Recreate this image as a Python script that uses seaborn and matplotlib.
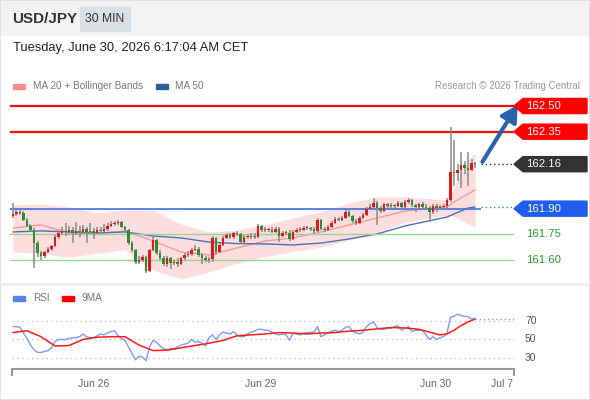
import numpy as np
import matplotlib
matplotlib.use("Agg")
import matplotlib.pyplot as plt
import seaborn as sns
from matplotlib.patches import Polygon, Rectangle
from matplotlib.lines import Line2D
from matplotlib.transforms import blended_transform_factory

W, H = 590, 400

# --- USD/JPY 30 min bars (oldest first) ---
first_open = 161.857
closes = [161.869, 161.881, 161.875, 161.834, 161.799, 161.775, 161.699, 161.641, 161.623, 161.647,
          161.664, 161.682, 161.734, 161.758, 161.770, 161.764, 161.775, 161.758, 161.770, 161.764,
          161.781, 161.764, 161.770, 161.758, 161.775, 161.770, 161.781, 161.799, 161.810, 161.816,
          161.822, 161.793, 161.775, 161.699, 161.658, 161.588, 161.600, 161.618, 161.536, 161.658,
          161.717, 161.641, 161.612, 161.577, 161.612, 161.582, 161.588, 161.577, 161.612, 161.629,
          161.635, 161.658, 161.664, 161.629, 161.612, 161.600, 161.606, 161.729, 161.647, 161.688,
          161.729, 161.746, 161.734, 161.758, 161.752, 161.705, 161.734, 161.734, 161.740, 161.734,
          161.799, 161.775, 161.775, 161.775, 161.764, 161.781, 161.740, 161.758, 161.758, 161.723,
          161.764, 161.775, 161.775, 161.787, 161.787, 161.781, 161.770, 161.834, 161.781, 161.775,
          161.793, 161.816, 161.840, 161.834, 161.845, 161.881, 161.857, 161.828, 161.816, 161.845,
          161.863, 161.898, 161.910, 161.933, 161.904, 161.886, 161.927, 161.916, 161.921, 161.916,
          161.933, 161.910, 161.939, 161.951, 161.921, 161.910, 161.927, 161.910, 161.904, 161.881,
          161.916, 161.904, 161.910, 161.916, 161.951, 162.114, 162.109, 162.126, 162.155, 162.138,
          162.126, 162.167, 162.160]
highs = [161.933, 161.893, 161.895, 161.887, 161.845, 161.810, 161.787, 161.710, 161.655, 161.655,
         161.675, 161.690, 161.745, 161.770, 161.790, 161.815, 161.800, 161.790, 161.820, 161.800,
         161.805, 161.795, 161.815, 161.785, 161.795, 161.790, 161.810, 161.815, 161.825, 161.830,
         161.835, 161.830, 161.800, 161.780, 161.710, 161.665, 161.625, 161.630, 161.625, 161.665,
         161.735, 161.725, 161.660, 161.625, 161.625, 161.620, 161.600, 161.610, 161.620, 161.640,
         161.650, 161.670, 161.690, 161.675, 161.640, 161.625, 161.620, 161.740, 161.735, 161.700,
         161.740, 161.760, 161.755, 161.765, 161.770, 161.760, 161.745, 161.745, 161.760, 161.755,
         161.810, 161.805, 161.790, 161.785, 161.790, 161.790, 161.790, 161.770, 161.770, 161.775,
         161.775, 161.785, 161.790, 161.800, 161.800, 161.795, 161.790, 161.845, 161.840, 161.795,
         161.805, 161.825, 161.850, 161.850, 161.860, 161.890, 161.890, 161.865, 161.840, 161.855,
         161.875, 161.910, 161.925, 161.960, 161.945, 161.915, 161.935, 161.935, 161.935, 161.930,
         161.945, 161.940, 161.950, 161.960, 161.955, 161.930, 161.935, 161.940, 161.925, 161.915,
         161.925, 161.925, 161.920, 161.925, 161.960, 162.377, 162.300, 162.160, 162.230, 162.180,
         162.230, 162.190, 162.175]
lows = [161.845, 161.860, 161.865, 161.825, 161.790, 161.765, 161.553, 161.620, 161.600, 161.612,
        161.640, 161.655, 161.675, 161.725, 161.745, 161.740, 161.750, 161.700, 161.745, 161.735,
        161.750, 161.700, 161.750, 161.720, 161.750, 161.755, 161.760, 161.770, 161.790, 161.800,
        161.805, 161.785, 161.765, 161.690, 161.645, 161.575, 161.575, 161.590, 161.525, 161.530,
        161.650, 161.630, 161.600, 161.565, 161.560, 161.545, 161.570, 161.560, 161.570, 161.600,
        161.620, 161.625, 161.650, 161.620, 161.575, 161.590, 161.585, 161.590, 161.630, 161.640,
        161.680, 161.720, 161.725, 161.725, 161.740, 161.695, 161.700, 161.725, 161.725, 161.725,
        161.730, 161.765, 161.765, 161.765, 161.755, 161.755, 161.705, 161.735, 161.745, 161.710,
        161.715, 161.755, 161.765, 161.770, 161.775, 161.770, 161.760, 161.765, 161.775, 161.765,
        161.770, 161.785, 161.810, 161.825, 161.825, 161.840, 161.850, 161.815, 161.805, 161.810,
        161.840, 161.855, 161.890, 161.905, 161.804, 161.875, 161.880, 161.905, 161.905, 161.905,
        161.910, 161.900, 161.905, 161.930, 161.910, 161.880, 161.900, 161.895, 161.890, 161.822,
        161.870, 161.880, 161.890, 161.895, 161.905, 161.940, 162.030, 162.060, 162.020, 162.100,
        162.030, 162.120, 162.140]

# indicators, read every few bars
ind_bars = [0, 8, 16, 24, 32, 40, 48, 56, 64, 72, 80, 88, 96, 104, 112, 120, 124, 126, 128, 130, 132]
ma20 = [161.787, 161.805, 161.758, 161.752, 161.770, 161.711, 161.647, 161.629, 161.670, 161.711,
        161.729, 161.764, 161.805, 161.845, 161.886, 161.904, 161.910, 161.939, 161.962, 161.986, 162.009]
bb_upper = [161.921, 161.927, 161.910, 161.875, 161.892, 161.892, 161.810, 161.764, 161.775, 161.805,
            161.845, 161.881, 161.933, 161.968, 161.968, 161.957, 161.951, 162.021, 162.114, 162.184, 162.225]
bb_lower = [161.647, 161.640, 161.615, 161.640, 161.660, 161.542, 161.489, 161.530, 161.582, 161.620,
            161.650, 161.675, 161.717, 161.760, 161.820, 161.851, 161.862, 161.855, 161.835, 161.810, 161.790]
ma50 = [161.764, 161.770, 161.764, 161.758, 161.764, 161.740, 161.729, 161.705, 161.696, 161.694,
        161.688, 161.699, 161.723, 161.752, 161.799, 161.834, 161.851, 161.869, 161.886, 161.904, 161.910]

rsi = [64, 64, 63, 57, 51, 44, 39, 36, 36, 37,
       38, 41, 48, 50, 50, 50, 51, 52, 52, 53,
       56, 53, 52, 52, 54, 56, 55, 57, 58.5, 59.6,
       54, 51, 49, 42, 35, 28, 32, 31, 27, 42,
       49, 47, 43, 40, 39, 40, 40, 42, 44, 45,
       46, 50, 47, 48, 46, 43, 52, 55, 50, 55,
       58, 57, 56, 58.5, 55, 53, 53, 56, 58, 59,
       61, 61, 60, 60, 58, 56, 55, 56, 55, 49,
       57, 56, 55, 57, 57.5, 57.5, 58, 64, 53, 55,
       57, 59, 60, 58.5, 60, 63, 64, 59, 57, 56,
       58, 64, 67, 69, 63, 61, 61, 62, 62, 64,
       65, 60, 62, 64, 58.5, 60, 60, 59.6, 55, 50,
       53, 50, 52, 53, 57, 74, 75, 77.5, 76, 75,
       74.6, 72, 73]
rsi_ma_bars = [0, 4, 8, 12, 16, 20, 24, 28, 32, 36, 40, 44, 48, 52, 56, 60, 64, 68, 72, 76,
               80, 84, 88, 92, 96, 100, 104, 108, 112, 116, 120, 122, 124, 126, 128, 130, 132]
rsi_ma9 = [57.5, 59.5, 53, 43, 43.5, 50, 52.5, 53, 53, 44, 38, 38.5, 41, 43.5, 46, 49, 54, 55, 56, 57.5,
           57, 56, 57, 57.5, 59, 60, 61.5, 63, 62.5, 61, 57, 55, 56, 60, 65, 69, 72]

resistances = [162.50, 162.35]
last_price = 162.16
pivot = 161.90
supports = [161.75, 161.60]
rsi_levels = [70, 50, 30]
date_labels = ["Jun 26", "Jun 29", "Jun 30", "Jul 7"]
date_bars = [22.9, 70.9, 120.6, 139.7]

sns.set_theme(style="white")
plt.rcParams["font.family"] = ["Liberation Sans", "DejaVu Sans"]

fig = plt.figure(figsize=(W / 100, H / 100), dpi=100, facecolor="white")


def fx(px):
    return px / W


def fy(py):
    return 1 - py / H


# header band and frame
fig.add_artist(Rectangle((0, fy(35)), 1, 35 / H, transform=fig.transFigure, color="#f3f3f3", zorder=0))
fig.add_artist(Rectangle((fx(80), fy(31)), 50 / W, 24 / H, transform=fig.transFigure, color="#dcdfe4", zorder=1))
fig.add_artist(Line2D([0, 1], [fy(284), fy(284)], transform=fig.transFigure, color="#ececec", lw=2))
fig.add_artist(Rectangle((0, 0), 1, 1, transform=fig.transFigure, fill=False, edgecolor="#e2e2e2", lw=1.5))

fig.text(fx(12), fy(19), "USD/JPY", fontsize=11, fontweight="bold", color="#333333", va="center")
fig.text(fx(105), fy(19), "30 MIN", fontsize=8.7, color="#333333", va="center", ha="center")
fig.text(fx(13), fy(48), "Tuesday, June 30, 2026 6:17:04 AM CET", fontsize=9.3, color="#222222", va="center")

# legend rows
fig.add_artist(Rectangle((fx(13), fy(89)), 12 / W, 5 / H, transform=fig.transFigure, color="#ff8a8a"))
fig.text(fx(33), fy(86), "MA 20 + Bollinger Bands", fontsize=7.2, color="#777777", va="center")
fig.add_artist(Rectangle((fx(156), fy(89)), 12 / W, 5 / H, transform=fig.transFigure, color="#2f5b9e"))
fig.text(fx(175), fy(86), "MA 50", fontsize=7.2, color="#777777", va="center")
fig.text(fx(580), fy(86), "Research \u00a9 2026 Trading Central", fontsize=7, color="#999999",
         va="center", ha="right")

fig.add_artist(Rectangle((fx(13), fy(301)), 12 / W, 5 / H, transform=fig.transFigure, color="#5b80e6"))
fig.text(fx(33), fy(298), "RSI", fontsize=7.2, color="#777777", va="center")
fig.add_artist(Rectangle((fx(62), fy(301)), 12 / W, 5 / H, transform=fig.transFigure, color="#ff0000"))
fig.text(fx(82), fy(298), "9MA", fontsize=7.2, color="#777777", va="center")

# ---- price panel ----
ax1 = fig.add_axes([fx(10), fy(282), (514 - 10) / W, (282 - 95) / H])
x_lo, x_hi = -0.857, 143.14
ax1.set_xlim(x_lo, x_hi)
ax1.set_ylim(161.4714, 162.5643)
ax1.set_axis_off()

ax1.fill_between(ind_bars, bb_lower, bb_upper, color="#fcdede", lw=0, zorder=1)
sns.lineplot(x=ind_bars, y=ma20, ax=ax1, color="#f59a9a", lw=1, zorder=2)
sns.lineplot(x=ind_bars, y=ma50, ax=ax1, color="#4d6fb5", lw=1, zorder=2)

for lv in resistances:
    ax1.axhline(lv, color="#ee1111", lw=1.6, zorder=2)
for lv in supports:
    ax1.axhline(lv, color="#98d498", lw=1, zorder=2)
n = len(closes)
end_x = n - 1 + 1.6
ax1.hlines(pivot, x_lo, end_x, color="#3f6fe0", lw=1.2, zorder=2)
ax1.hlines(ma50[-1], end_x, x_hi, color="#3f6fe0", lw=1, linestyles=(0, (1, 2)), zorder=2)
ax1.hlines(last_price, end_x, x_hi, color="#333333", lw=1, linestyles=(0, (1, 2)), zorder=2)

idx = np.arange(n)
c = np.array(closes)
o = np.array([first_open] + closes[:-1])
colors = np.where(c >= o, "#e8141c", "#2e8b2e")
ax1.vlines(idx, lows, highs, color="#8a8a8a", lw=1.1, zorder=3)
ax1.bar(idx, np.maximum(np.abs(c - o), 0.004), bottom=np.minimum(o, c), width=0.8,
        color=colors, linewidth=0, zorder=4)

ax1.annotate("", xy=(144.6, 162.52), xytext=(n - 1 + 1.7, last_price),
             arrowprops=dict(arrowstyle="-|>,head_width=0.45,head_length=0.8", color="#2e62a8", lw=3),
             annotation_clip=False, zorder=5)

# price labels on the right
tr = blended_transform_factory(fig.transFigure, ax1.transData)
hh = 0.044
boxes = [(resistances[0], "#ff0000"), (resistances[1], "#ff0000"),
         (last_price, "#333333"), (pivot, "#1f5ef0")]
for lv, col in boxes:
    pts = [(fx(514), lv), (fx(523), lv + hh), (fx(587), lv + hh), (fx(587), lv - hh), (fx(523), lv - hh)]
    ax1.add_patch(Polygon(pts, closed=True, transform=tr, color=col, clip_on=False, zorder=10))
    ax1.text(fx(526), lv, f"{lv:.2f}", transform=tr, color="white", fontsize=8.2,
             va="center", clip_on=False, zorder=11)
for lv in supports:
    ax1.text(fx(526), lv, f"{lv:.2f}", transform=tr, color="#2b9b2b", fontsize=8.2,
             va="center", clip_on=False, zorder=11)

# ---- RSI panel ----
ax2 = fig.add_axes([fx(12), fy(369), (514 - 12) / W, (369 - 305) / H])
r_lo = -0.286
ax2.set_xlim(r_lo, x_hi)
ax2.set_ylim(18.1, 87.3)
ax2.set_facecolor("none")
sns.despine(ax=ax2, left=True)
ax2.spines["bottom"].set_color("#9a9a9a")
ax2.spines["bottom"].set_linewidth(1.5)
ax2.set_yticks([])

ax2.hlines(rsi_levels, r_lo, x_hi, colors="#c4c4c4", linestyles=(0, (1, 2.5)), lw=1, zorder=1)
sns.lineplot(x=idx, y=rsi, ax=ax2, color="#7d9cf0", lw=1, zorder=2)
sns.lineplot(x=rsi_ma_bars, y=rsi_ma9, ax=ax2, color="#ff1a1a", lw=1.1, zorder=3)
ax2.hlines(rsi_ma9[-1], n - 1, x_hi, colors="#7d9cf0", linestyles=(0, (1, 2)), lw=1, zorder=2)

tr2 = blended_transform_factory(fig.transFigure, ax2.transData)
for lv in rsi_levels:
    ax2.text(fx(525), lv, str(lv), transform=tr2, color="#555555", fontsize=7.5, va="center", clip_on=False)

ax2.set_xticks(date_bars)
ax2.set_xticklabels(date_labels)
ax2.set_xticks([r_lo + 0.05, x_hi - 0.05], minor=True)
ax2.tick_params(axis="x", which="major", length=0, pad=7, labelsize=7.5, labelcolor="#666666")
ax2.tick_params(axis="x", which="minor", bottom=True, length=5, width=1.5, color="#9a9a9a", direction="out")
ax2.set_xlabel("")
ax2.set_ylabel("")

fig.savefig("out.png", dpi=100, facecolor="white")
